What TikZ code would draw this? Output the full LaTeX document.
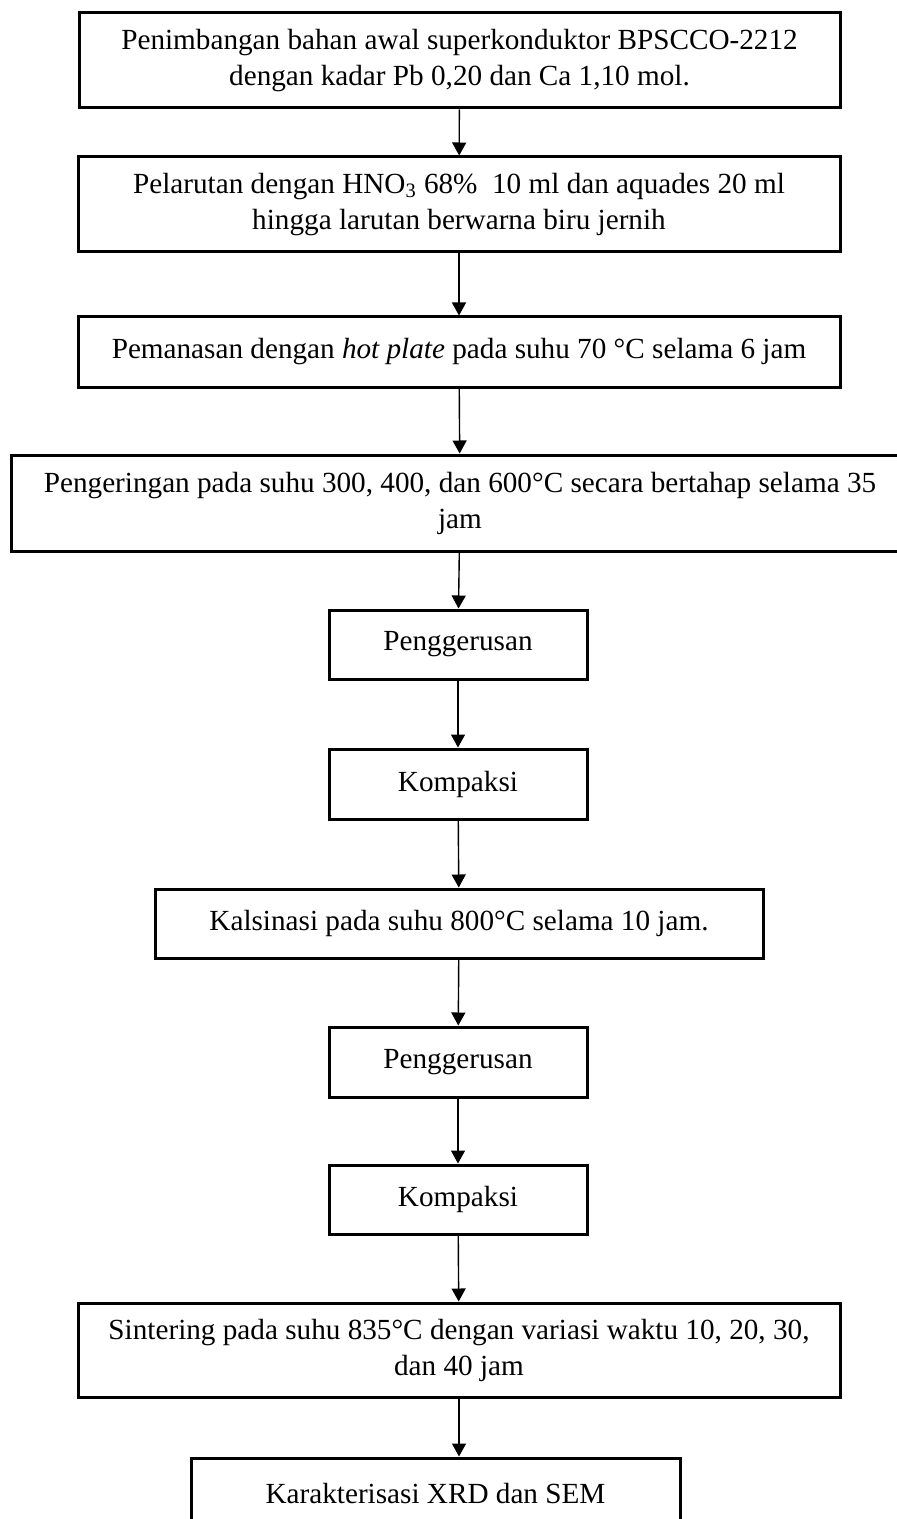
\documentclass[tikz,border=0pt]{standalone}
\usepackage{fontspec}
\setmainfont{Liberation Serif}
\usetikzlibrary{arrows.meta,positioning}

\begin{document}
\begin{tikzpicture}[x=0.5pt,y=-0.5pt,
  langkah/.style={draw,line width=1.5pt,align=center,inner sep=0pt,
    font=\fontsize{14.6}{18}\selectfont},
  panah/.style={draw,line width=0.7pt,-{Triangle[length=6.5pt,width=7pt]}}]

\useasboundingbox (0,0) rectangle (896,1519);

\node[langkah,minimum width=380.5pt,minimum height=47.5pt] (timbang) at (459.5,60.5)
  {Penimbangan bahan awal superkonduktor BPSCCO-2212\\dengan kadar Pb 0,20 dan Ca 1,10 mol.};
\node[langkah,minimum width=381pt,minimum height=47.5pt] (larut) at (459,204.5)
  {Pelarutan dengan HNO\textsubscript{3} 68\%\ \ 10 ml dan aquades 20 ml\\hingga larutan berwarna biru jernih};
\node[langkah,minimum width=381pt,minimum height=35pt] (panas) at (459,352)
  {Pemanasan dengan \textit{hot plate} pada suhu 70 °C selama 6 jam};
\node[langkah,minimum width=449pt,minimum height=48pt] (kering) at (460,503)
  {Pengeringan pada suhu 300, 400, dan 600°C secara bertahap selama 35\\jam};
\node[langkah,minimum width=129pt,minimum height=34.5pt] (gerus1) at (458,644.5) {Penggerusan};
\node[langkah,minimum width=129pt,minimum height=35pt] (kompak1) at (458,784) {Kompaksi};
\node[langkah,minimum width=304pt,minimum height=34.5pt] (kalsin) at (459,923.5)
  {Kalsinasi pada suhu 800°C selama 10 jam.};
\node[langkah,minimum width=129pt,minimum height=35pt] (gerus2) at (458,1062) {Penggerusan};
\node[langkah,minimum width=129pt,minimum height=34.5pt] (kompak2) at (458,1199.5) {Kompaksi};
\node[langkah,minimum width=381pt,minimum height=47pt] (sinter) at (459,1350)
  {Sintering pada suhu 835°C dengan variasi waktu 10, 20, 30,\\dan 40 jam};
\node[langkah,minimum width=244.5pt,minimum height=35pt] (karak) at (435.5,1493)
  {Karakterisasi XRD dan SEM};

% alur proses
\draw[panah] (timbang) -- (larut);
\draw[panah] (larut) -- (panas);
\draw[panah] (panas) -- (kering);
\draw[panah] (kering) -- (gerus1);
\draw[panah] (gerus1) -- (kompak1);
\draw[panah] (kompak1) -- (kalsin);
\draw[panah] (kalsin) -- (gerus2);
\draw[panah] (gerus2) -- (kompak2);
\draw[panah] (kompak2) -- (sinter);
\draw[panah] (sinter.south) -- (sinter.south |- karak.north);

\end{tikzpicture}
\end{document}
